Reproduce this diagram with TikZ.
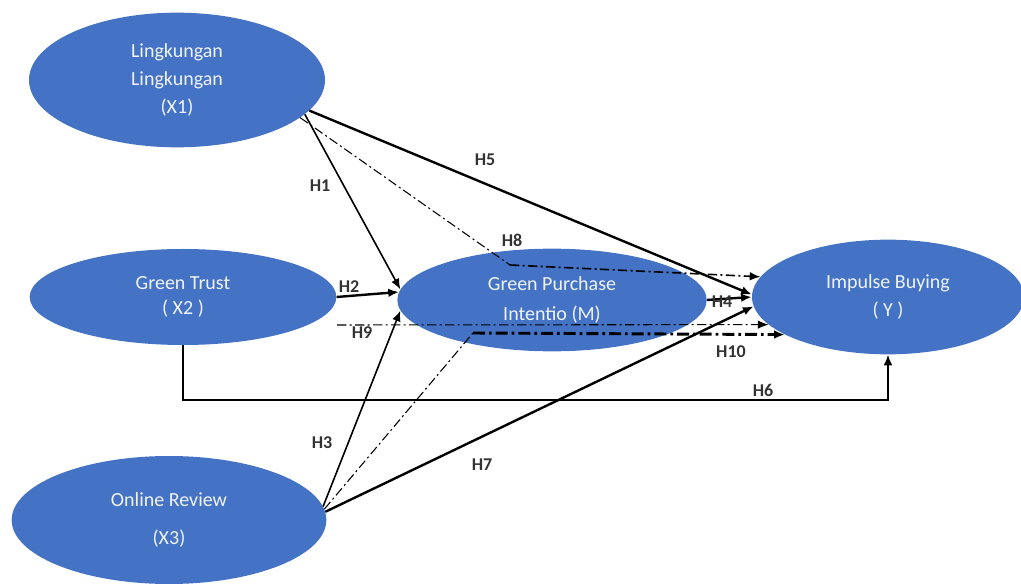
\documentclass[tikz,border=0pt]{standalone}
\usepackage{fontspec}
\setmainfont{Carlito}
\usetikzlibrary{shapes.geometric, arrows, arrows.meta, calc}
\definecolor{varblue}{HTML}{4472C4}

\begin{document}
\begin{tikzpicture}[x=0.75pt, y=-0.75pt, >={Latex[length=8pt,width=6.5pt]},
   var/.style={ellipse, fill=varblue, text=white!92!varblue, align=center, inner sep=0pt, font=\fontsize{15}{21}\selectfont},
   hyp/.style={font=\fontsize{13.5}{15}\selectfont\bfseries, text=black!80},
   dd/.style={dash pattern=on 7pt off 2.5pt on 1.5pt off 2.5pt},
   thin1/.style={line width=0.8pt},
   mid1/.style={line width=1.2pt},
   thick1/.style={line width=1.8pt}] 
   \useasboundingbox (0,0) rectangle (1021,584);

   \node[var, minimum width=222pt, minimum height=101pt] (x1) at (177,80) {Lingkungan\\Lingkungan\\(X1)};
   \node[var, minimum width=230pt, minimum height=72pt, font=\fontsize{15}{19}\selectfont] (x2) at (183,297) {Green Trust\\( X2 )};
   \node[var, minimum width=236pt, minimum height=96pt] (x3) at (169,520) {Online Review\\[7pt](X3)};
   \node[var, minimum width=232pt, minimum height=77pt, font=\fontsize{15}{22}\selectfont] (m) at (552,300) {Green Purchase\\Intentio (M)};
   \node[var, minimum width=204pt, minimum height=86pt] (y) at (888,297) {Impulse Buying\\( Y )};

   \coordinate (h8b) at (510,265);
   \coordinate (h9s) at (337,325);
   \coordinate (h10b) at (473,333);
   \coordinate (h6b) at (183,400);

   \path[->] 
    (x1.-15) edge [mid1] (m.176)
    (x1.-13) edge [thick1] (y.179)
    (x2.east) edge [thick1] (m.177)
    (m.east) edge [thick1] (y.west)
    (x3.5) edge [mid1] (m.184)
    (x3.3) edge [thick1] (y.184)
    (h9s) edge [thin1, dd] (y.193);

   \draw[thin1, dd] (x1.-17) -- (h8b);
   \draw[->, mid1, dd] (h8b) -- (y.171);
   \draw[thin1, dd] (x3.4) -- (h10b);
   \draw[->, line width=2.2pt, dash pattern=on 9pt off 3pt on 2pt off 3pt] (h10b) -- (y.200);
   \draw[->, mid1] (x2.south) -- (h6b) -| (y.south);

   \node[hyp] (h1) at (320,186) {H1};
   \node[hyp] (h5) at (485,160) {H5};
   \node[hyp] (h8) at (512,240) {H8};
   \node[hyp] (h2) at (349,287) {H2};
   \node[hyp] (h9) at (362,333) {H9};
   \node[hyp] (h4) at (722,302) {H4};
   \node[hyp] (h10) at (731,352) {H10};
   \node[hyp] (h6) at (763,390) {H6};
   \node[hyp] (h3) at (322,443) {H3};
   \node[hyp] (h7) at (482,465) {H7};
\end{tikzpicture}
\end{document}
